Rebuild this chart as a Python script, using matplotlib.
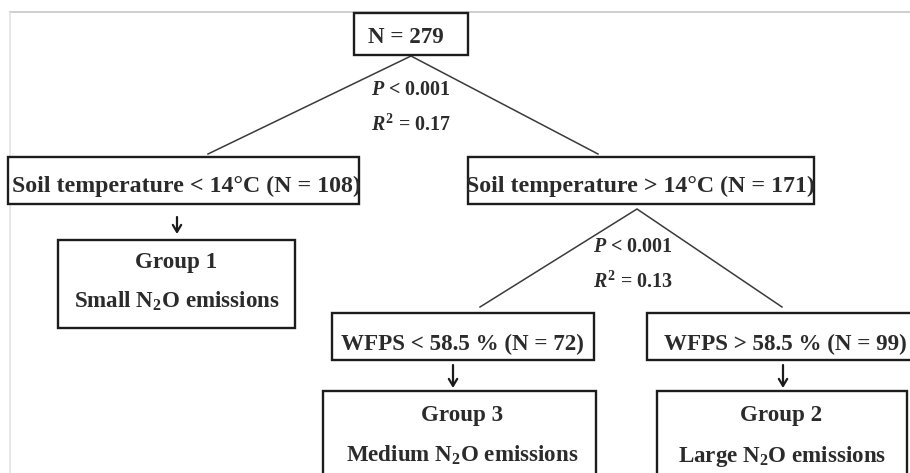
import matplotlib
matplotlib.use("Agg")
import matplotlib.pyplot as plt
from matplotlib.patches import Rectangle

# ---- tree content ----
root_n = 279
split_vars = ["Soil temperature", "WFPS"]
split_thresholds = ["14\u00b0C", "58.5 %"]
split_p = ["0.001", "0.001"]
split_r2 = ["0.17", "0.13"]
node_n = [108, 171, 72, 99]          # left/right of split 1, left/right of split 2
group_names = ["Group 1", "Group 3", "Group 2"]
group_desc = ["Small", "Medium", "Large"]

plt.rcParams["font.family"] = ["Liberation Serif", "DejaVu Serif"]
plt.rcParams["font.weight"] = "bold"
plt.rcParams["mathtext.fontset"] = "custom"
plt.rcParams["mathtext.rm"] = "Liberation Serif:bold"
plt.rcParams["mathtext.bf"] = "Liberation Serif:bold"
plt.rcParams["mathtext.it"] = "Liberation Serif:italic:bold"

W, H = 910, 473
fig = plt.figure(figsize=(W / 100, H / 100), dpi=100)
ax = fig.add_axes([0, 0, 1, 1])
ax.set_xlim(0, W)
ax.set_ylim(H, 0)
ax.axis("off")

TXT = "#2b2b2b"
EDGE = "#1c1c1c"
LINE = "#3a3a3a"
FS_BOX = 16.6
FS_WIDE = 17.2
FS_STAT = 14.4

# faint outer frame
ax.plot([9, W], [12.5, 12.5], color="#cfcfcf", lw=1.4, solid_capstyle="butt")
ax.plot([9.5, 9.5], [12.5, H], color="#e4e4e4", lw=1.2, solid_capstyle="butt")


def box(x0, y0, x1, y1):
    ax.add_patch(Rectangle((x0, y0), x1 - x0, y1 - y0, fill=True, fc="white",
                           ec=EDGE, lw=1.7, zorder=3))


def label(x, y, s, fs=FS_BOX):
    ax.text(x, y, s, ha="center", va="baseline", fontsize=fs, color=TXT,
            fontweight="bold", zorder=4)


def branch(apex, left, right):
    ax.plot([left[0], apex[0], right[0]], [left[1], apex[1], right[1]],
            color=LINE, lw=1.1, zorder=2, solid_joinstyle="miter")


def stats(x, y, p, r2):
    label(x, y, "$P$ < " + p, FS_STAT)
    label(x, y + 36, "$R^2$ = " + r2, FS_STAT)


def down_arrow(x, y0, y1):
    ax.annotate("", xy=(x, y1), xytext=(x, y0),
                arrowprops=dict(arrowstyle="->,head_length=0.5,head_width=0.3",
                                color="#1a1a1a", lw=1.6, shrinkA=0, shrinkB=0))


# root
box(354, 13, 468, 55)
label(406, 43, f"N = {root_n}")

# first split
branch((411, 56), (208, 154), (598, 154))
stats(411, 95, split_p[0], split_r2[0])

box(8, 157, 359, 204)
label(186, 192, f"{split_vars[0]} < {split_thresholds[0]} (N = {node_n[0]})", FS_WIDE)
box(468, 157, 814, 204)
label(640, 192, f"{split_vars[0]} > {split_thresholds[0]} (N = {node_n[1]})", FS_WIDE)

# group 1
down_arrow(177, 217, 234)
box(58, 240, 295, 328)
label(176, 268, group_names[0])
label(177, 308, f"{group_desc[0]} N$_2$O emissions")

# second split
branch((637, 209), (480, 307), (782, 307))
stats(633, 252, split_p[1], split_r2[1])

box(332, 313, 594, 360)
label(462, 350, f"{split_vars[1]} < {split_thresholds[1]} (N = {node_n[2]})")
box(647, 313, 915, 360)
label(785, 350, f"{split_vars[1]} > {split_thresholds[1]} (N = {node_n[3]})")

# groups 3 and 2
down_arrow(453, 365, 388)
down_arrow(783, 365, 388)
box(323, 391, 596, 490)
label(462, 421, group_names[1])
label(462, 462, f"{group_desc[1]} N$_2$O emissions")
box(657, 391, 907, 490)
label(781, 421, group_names[2])
label(782, 462, f"{group_desc[2]} N$_2$O emissions")

fig.savefig("out.png", dpi=100, facecolor="white")
